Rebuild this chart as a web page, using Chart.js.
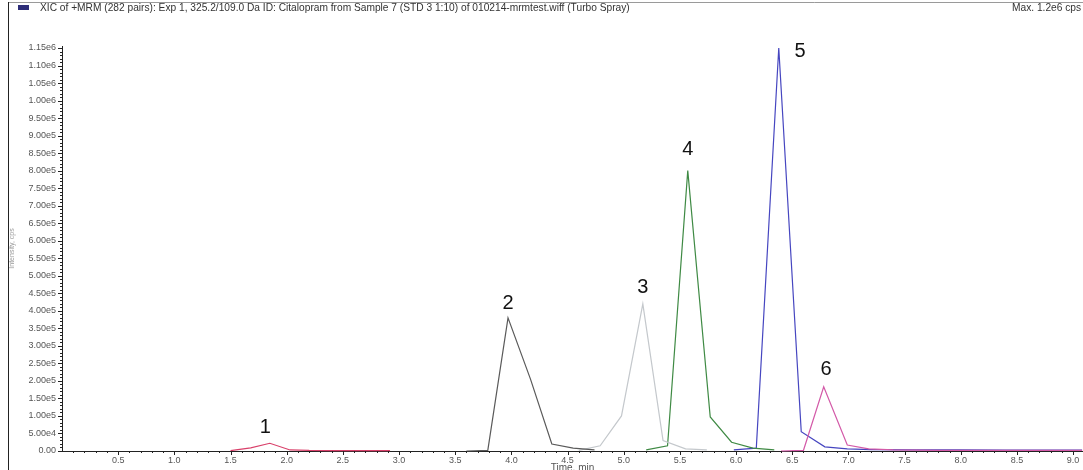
<!DOCTYPE html>
<html>
<head>
<meta charset="utf-8">
<script src="https://cdn.jsdelivr.net/npm/chart.js@4/dist/chart.umd.min.js"></script>
<style>
html,body{margin:0;padding:0;background:#fff;}
#wrap{width:1083px;height:470px;position:relative;}
</style>
</head>
<body>
<div id="wrap"><canvas id="c" width="1083" height="470"></canvas></div>
<script>
// ---- data (time in min, intensity in cps) ----
const peak1Time = [1.50, 1.68, 1.85, 2.03, 2.20, 2.38, 2.56, 2.74, 2.92];
const peak1Int  = [1000, 9000, 22000, 3000, 1500, 1200, 1000, 1000, 800];
const peak2Time = [3.60, 3.79, 3.97, 4.17, 4.36, 4.55, 4.74];
const peak2Int  = [0, 2000, 380000, 205000, 20000, 8000, 3000];
const peak3Time = [4.60, 4.79, 4.98, 5.17, 5.35, 5.55, 5.74];
const peak3Int  = [2000, 15000, 100000, 420000, 30000, 6000, 3000];
const peak4Time = [5.20, 5.39, 5.57, 5.77, 5.96, 6.15, 6.34];
const peak4Int  = [3000, 15000, 800000, 97000, 25000, 8000, 3000];
const peak5Time = [5.98, 6.18, 6.38, 6.58, 6.79, 6.99, 7.20, 7.60, 8.00, 8.40, 8.80, 9.08];
const peak5Int  = [3000, 8000, 1150000, 55000, 12000, 6000, 4000, 3000, 3000, 2500, 2500, 2500];
const peak6Time = [6.40, 6.60, 6.78, 6.99, 7.18, 7.40, 7.80, 8.20, 8.60, 9.08];
const peak6Int  = [0, 2000, 183000, 17000, 6000, 3000, 2000, 2000, 2000, 2000];
const peakLabels = ["1", "2", "3", "4", "5", "6"];
const peakLabelTime = [1.81, 3.97, 5.17, 5.57, 6.57, 6.80];
const peakLabelInt  = [66000, 420000, 468000, 860000, 1140000, 234000];
const xTickValues = [0.5,1.0,1.5,2.0,2.5,3.0,3.5,4.0,4.5,5.0,5.5,6.0,6.5,7.0,7.5,8.0,8.5,9.0];
const xTickLabels = ["0.5","1.0","1.5","2.0","2.5","3.0","3.5","4.0","4.5","5.0","5.5","6.0","6.5","7.0","7.5","8.0","8.5","9.0"];
const yTickValues = [0,50000,100000,150000,200000,250000,300000,350000,400000,450000,500000,550000,600000,650000,700000,750000,800000,850000,900000,950000,1000000,1050000,1100000,1150000];
const yTickLabels = ["0.00","5.00e4","1.00e5","1.50e5","2.00e5","2.50e5","3.00e5","3.50e5","4.00e5","4.50e5","5.00e5","5.50e5","6.00e5","6.50e5","7.00e5","7.50e5","8.00e5","8.50e5","9.00e5","9.50e5","1.00e6","1.05e6","1.10e6","1.15e6"];
const titleText = "XIC of +MRM (282 pairs): Exp 1, 325.2/109.0 Da ID: Citalopram from Sample 7 (STD 3 1:10) of 010214-mrmtest.wiff (Turbo Spray)";
const maxText = "Max. 1.2e6 cps";
const xTitle = "Time, min";
const yTitle = "Intensity, cps";

function pts(t, v){ return t.map((x,i)=>({x:x, y:v[i]})); }

const FONT = "'Liberation Sans', Arial, sans-serif";

const decor = {
  id: 'decor',
  afterDraw(chart){
    const ctx = chart.ctx, xs = chart.scales.x, ys = chart.scales.y;
    const ca = chart.chartArea;
    ctx.save();
    // frame
    ctx.strokeStyle = '#9a9a9a'; ctx.lineWidth = 1;
    ctx.beginPath(); ctx.moveTo(8, 2.5); ctx.lineTo(1083, 2.5); ctx.stroke();
    ctx.strokeStyle = '#222';
    ctx.beginPath(); ctx.moveTo(8.5, 2); ctx.lineTo(8.5, 470); ctx.stroke();
    // icon
    ctx.fillStyle = '#2d2d78';
    ctx.fillRect(18, 5, 11, 5);
    // title texts
    ctx.fillStyle = '#333';
    ctx.font = '10.2px ' + FONT;
    ctx.textBaseline = 'middle';
    ctx.textAlign = 'left';
    ctx.fillText(titleText, 40, 8);
    ctx.fillText(maxText, 1012, 8);
    // minor / major ticks
    ctx.strokeStyle = '#222';
    ctx.beginPath();
    for (let i = 1; i <= 90; i++) {
      const t = i / 10;
      const px = Math.round(xs.getPixelForValue(t)) + 0.5;
      const len = (i % 5 === 0) ? 4 : 2;
      ctx.moveTo(px, ca.bottom); ctx.lineTo(px, ca.bottom + len);
    }
    for (let i = 0; i <= 115; i++) {
      const v = i * 10000;
      const py = Math.round(ys.getPixelForValue(v)) + 0.5;
      const len = (i % 5 === 0) ? 4 : 2;
      ctx.moveTo(ca.left, py); ctx.lineTo(ca.left - len, py);
    }
    ctx.stroke();
    // peak labels
    ctx.fillStyle = '#111';
    ctx.font = '20px ' + FONT;
    ctx.textAlign = 'center';
    ctx.textBaseline = 'middle';
    peakLabels.forEach((l, i) => {
      ctx.fillText(l, xs.getPixelForValue(peakLabelTime[i]), ys.getPixelForValue(peakLabelInt[i]));
    });
    ctx.restore();
  }
};

function ds(t, v, color){
  return { data: pts(t, v), borderColor: color, borderWidth: 1.2, pointRadius: 0, tension: 0, fill: false, clip: false };
}

new Chart(document.getElementById('c'), {
  type: 'line',
  data: {
    datasets: [
      ds(peak1Time, peak1Int, '#d9406a'),
      ds(peak2Time, peak2Int, '#5a5a5a'),
      ds(peak3Time, peak3Int, '#c4c8cc'),
      ds(peak4Time, peak4Int, '#3f8a44'),
      ds(peak6Time, peak6Int, '#d35aa8'),
      ds(peak5Time, peak5Int, '#4646c0')
    ]
  },
  options: {
    responsive: false,
    animation: false,
    events: [],
    layout: { padding: { left: 0, right: 0, top: 46, bottom: 0 } },
    plugins: { legend: { display: false }, tooltip: { enabled: false }, title: { display: false } },
    scales: {
      x: {
        type: 'linear', min: 0, max: 9.088,
        grid: { display: true, drawOnChartArea: false, drawTicks: false },
        border: { display: true, color: '#222', width: 1 },
        afterBuildTicks: (s) => { s.ticks = xTickValues.map(v => ({ value: v })); },
        ticks: {
          maxRotation: 0, autoSkip: false, padding: 4,
          color: '#555', font: { size: 9, family: FONT },
          callback: (v) => { const i = xTickValues.indexOf(v); return i >= 0 ? xTickLabels[i] : ''; }
        },
        title: { display: true, text: xTitle, color: '#555', font: { size: 10, family: FONT }, padding: { top: 0, bottom: -4 } },
        afterFit: (s) => { s.height = 19; s.paddingLeft = 0; s.paddingRight = 0; }
      },
      y: {
        type: 'linear', min: 0, max: 1155700,
        grid: { display: true, drawOnChartArea: false, drawTicks: false },
        border: { display: true, color: '#222', width: 1 },
        afterBuildTicks: (s) => { s.ticks = yTickValues.map(v => ({ value: v })); },
        ticks: {
          autoSkip: false, padding: 6,
          color: '#555', font: { size: 9, family: FONT },
          callback: (v) => { const i = yTickValues.indexOf(v); return i >= 0 ? yTickLabels[i] : ''; }
        },
        title: { display: true, text: yTitle, color: '#999', font: { size: 7, family: FONT }, padding: { top: 8, bottom: 0 } },
        afterFit: (s) => { s.width = 62; s.paddingTop = 0; s.paddingBottom = 0; }
      }
    }
  },
  plugins: [decor]
});
</script>
</body>
</html>
